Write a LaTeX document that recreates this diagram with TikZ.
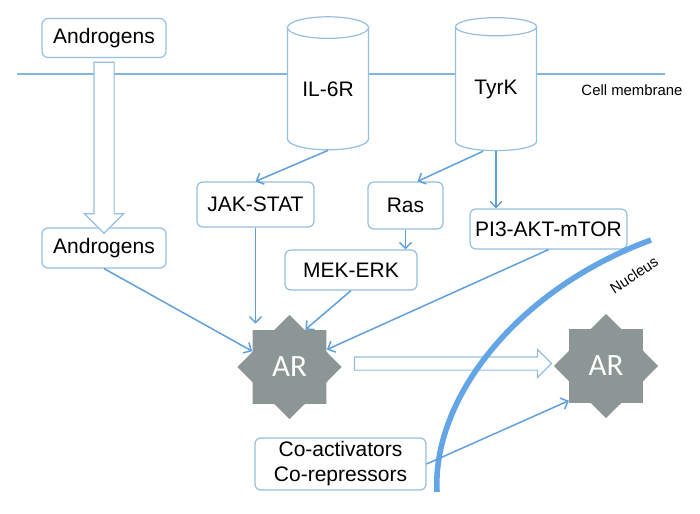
\documentclass[tikz,border=0pt]{standalone}
\usepackage{fontspec}
\setmainfont{Liberation Sans}
\newfontfamily\arfont{Carlito}
\usepackage{tikz}
\usetikzlibrary{arrows.meta,shapes.geometric,shapes.arrows,calc}
\definecolor{boxblue}{RGB}{150,190,225}
\definecolor{linkblue}{RGB}{95,160,220}
\definecolor{membblue}{RGB}{130,180,220}
\definecolor{nucblue}{RGB}{100,165,230}
\definecolor{argray}{RGB}{140,150,148}

\begin{document}
\begin{tikzpicture}[x=0.5pt, y=-0.5pt,
  box/.style={draw=boxblue, line width=0.6pt, rounded corners=3pt, fill=white, align=center, inner sep=0pt, font=\fontsize{10.5}{12.5}\selectfont},
  receptor/.style={cylinder, shape border rotate=90, aspect=0.42, draw=boxblue, fill=white, line width=0.6pt, minimum width=40.5pt, minimum height=66.5pt, inner sep=0pt, font=\fontsize{10.5}{12.5}\selectfont},
  arstar/.style={star, star points=8, star point ratio=1.3, fill=argray, minimum size=52pt, inner sep=0pt, text=white, font=\arfont\fontsize{15.5}{18}\selectfont},
  link/.style={-{Straight Barb[length=3pt, width=6pt]}, line width=0.75pt, linkblue},
  hollow/.style={single arrow, draw=boxblue, fill=white, line width=0.6pt, inner xsep=0pt}
]
\useasboundingbox (0,0) rectangle (700,513);

% Membrane and receptors
\draw[membblue, line width=1pt] (17,74) -- (665,74);
\node[font=\fontsize{7.45}{9}\selectfont] (cellmem) at (632,90) {Cell membrane};
\node[receptor] (il6r) at (328,89) {IL-6R};
\node[receptor] (tyrk) at (496,89) {TyrK};

% Cytoplasm
\node[box, minimum width=62pt, minimum height=19.5pt] (andtop) at (104,38) {Androgens};
\node[box, minimum width=62pt, minimum height=20pt] (andlow) at (104,248) {Androgens};
\node[box, minimum width=58.5pt, minimum height=22.5pt] (jak) at (255.5,204.5) {JAK-STAT};
\node[box, minimum width=37.5pt, minimum height=23.5pt] (ras) at (405.5,205.5) {Ras};
\node[box, minimum width=78.5pt, minimum height=20pt] (pi3) at (548.5,229) {PI3-AKT-mTOR};
\node[box, minimum width=66pt, minimum height=20pt] (mek) at (351,270) {MEK-ERK};
\node[box, minimum width=85.5pt, minimum height=26pt] (coact) at (340.5,464) {Co-activators\\Co-repressors};
\node[arstar] (arL) at (289.5,367) {AR};
\node[arstar] (arR) at (606,366) {AR};

% Hollow arrows
\node[hollow, rotate=-90, minimum height=85.5pt, inner ysep=4.75pt, single arrow head extend=4.75pt] (entry) at ($(andtop.south)!0.5!(andlow.north)$) {};
\node[hollow, minimum height=98.5pt, inner ysep=3pt, single arrow head extend=3.75pt] (shuttle) at ($(arL.east)!0.5!(arR.west)+(2,-3)$) {};

% Nucleus
\draw[nucblue, line width=2.8pt] (437,492) .. controls (432,400) and (515,290) .. (651,240);
\node[rotate=33, font=\fontsize{7.45}{9}\selectfont] (nucleus) at (634,275) {Nucleus};

% Signalling links
\draw[link] (il6r.south) -- (jak.north);
\draw[link] ($(tyrk.south)+(-13,0)$) -- ($(ras.north)+(12,0)$);
\draw[link] (tyrk.south) -- (tyrk.south |- pi3.north);
\draw[link] (ras.south) -- (ras.south |- mek.north);
\draw[link, shorten >=3pt] (jak.south) -- (jak.south |- arL.120);
\draw[link] (mek.south) -- (arL.67);
\draw[link] (andlow.south) -- (arL.157);
\draw[link] (pi3.south) -- (arL.25);
\draw[link] (coact.east) -- (arR.223);
\end{tikzpicture}
\end{document}
